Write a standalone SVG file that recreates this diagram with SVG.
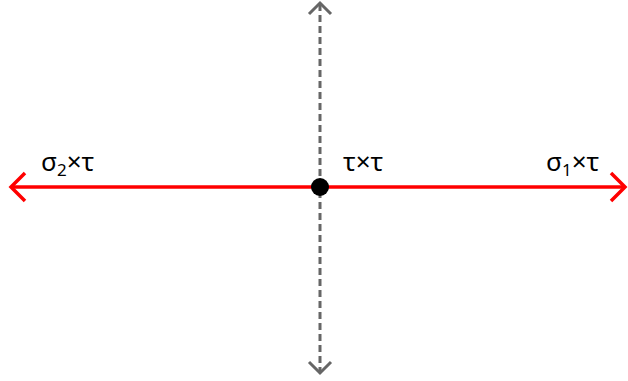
<svg xmlns="http://www.w3.org/2000/svg" width="628" height="381" viewBox="0 0 628 381">
<style>
.lbl{font-family:"Noto Sans","Open Sans",sans-serif;font-size:26px;fill:#000}
.sub{font-size:17px}
.red{stroke:#ff0000;stroke-width:3.5;fill:none}
.gray{stroke:#666666;stroke-width:3;fill:none}
</style>
<rect width="628" height="381" fill="#fff"/>
<g id="connectors">
<line class="gray" x1="320" y1="4" x2="320" y2="373" stroke-dasharray="7,4"/>
<polyline class="gray" points="309,14 320,3 331,14"/>
<polyline class="gray" points="309,362 320,373 331,362"/>
<line class="red" x1="11" y1="187" x2="625" y2="187"/>
<polyline class="red" points="25,173 11,187 25,201"/>
<polyline class="red" points="611,173 625,187 611,201"/>
</g>
<g id="origin">
<circle cx="320" cy="187" r="9" fill="#000"/>
<text class="lbl" x="343" y="171">τ×τ</text>
</g>
<g id="left">
<text class="lbl" x="41" y="171">σ<tspan class="sub" dy="5">2</tspan><tspan dy="-5">×τ</tspan></text>
</g>
<g id="right">
<text class="lbl" x="546" y="171">σ<tspan class="sub" dy="5">1</tspan><tspan dy="-5">×τ</tspan></text>
</g>
</svg>
